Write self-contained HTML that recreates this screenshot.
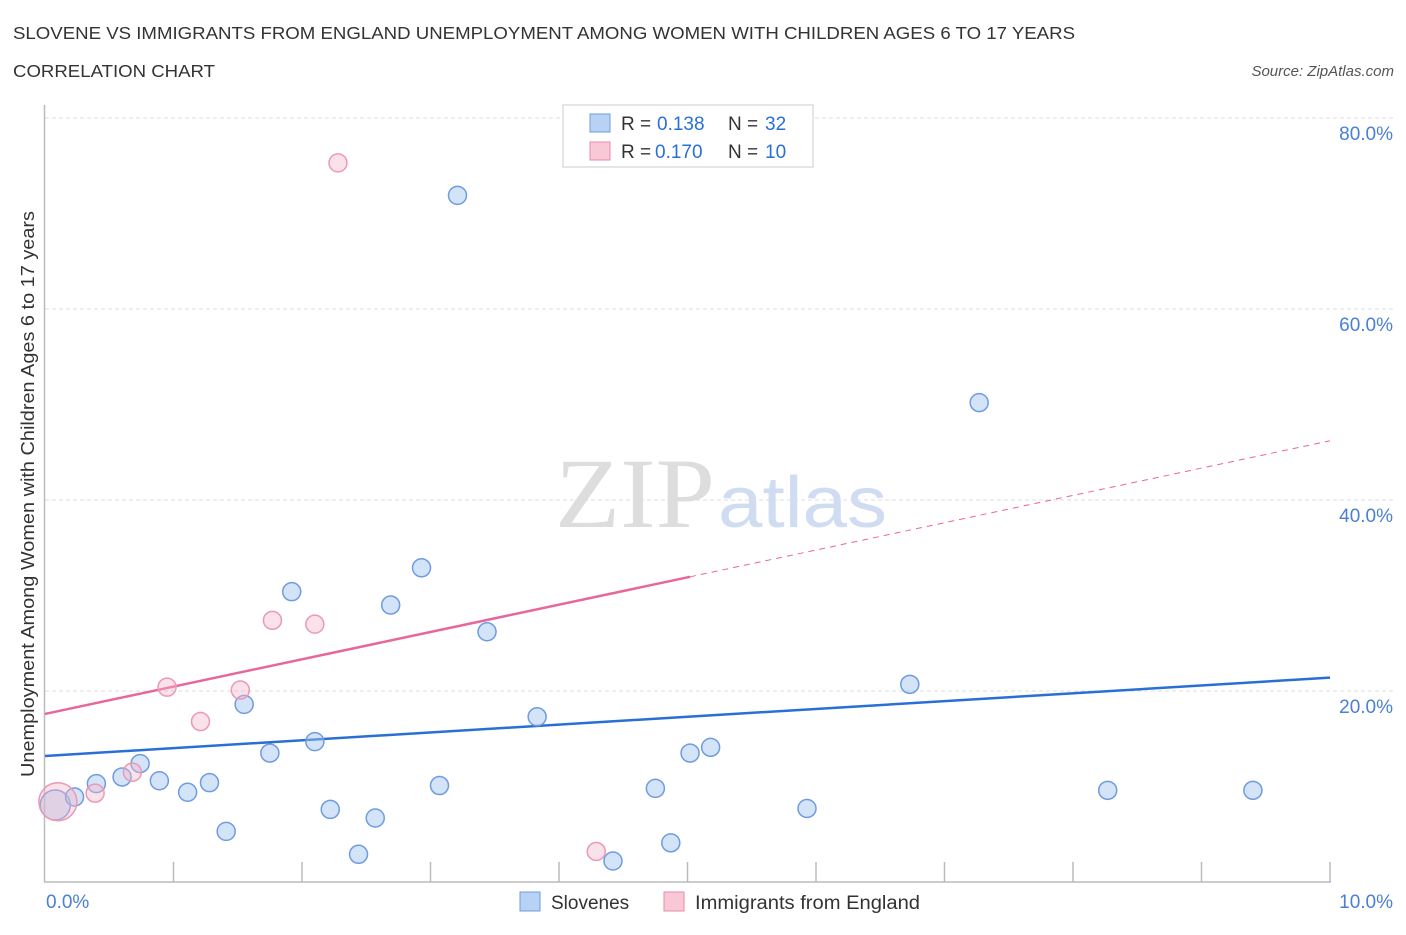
<!DOCTYPE html>
<html><head><meta charset="utf-8"><style>
body{margin:0;background:#fff;font-family:"Liberation Sans",sans-serif;}
</style></head><body>
<svg width="1406" height="930" xmlns="http://www.w3.org/2000/svg" font-family="Liberation Sans, sans-serif">
<text x="13" y="39" font-size="17.5" fill="#333" textLength="1062" lengthAdjust="spacingAndGlyphs">SLOVENE VS IMMIGRANTS FROM ENGLAND UNEMPLOYMENT AMONG WOMEN WITH CHILDREN AGES 6 TO 17 YEARS</text>
<text x="13" y="77" font-size="17.5" fill="#333" textLength="202" lengthAdjust="spacingAndGlyphs">CORRELATION CHART</text>
<text x="1394" y="76" font-size="15" fill="#555" text-anchor="end" font-style="italic">Source: ZipAtlas.com</text>
<text x="555" y="527" font-size="100" fill="#ddd" textLength="160" lengthAdjust="spacingAndGlyphs" font-family="Liberation Serif, serif">ZIP</text>
<text x="718" y="527" font-size="72" fill="#cfdcf2" textLength="169" lengthAdjust="spacingAndGlyphs">atlas</text>
<g id="grid"></g>
<g id="axes"></g>
<g id="lines"></g>
<g id="points"></g>
<text transform="translate(34,494) rotate(-90)" font-size="18" fill="#333" text-anchor="middle" textLength="566" lengthAdjust="spacingAndGlyphs">Unemployment Among Women with Children Ages 6 to 17 years</text>
<g>
<rect x="563" y="105" width="250" height="62" fill="#fff" stroke="#ccc"/>
<rect x="590" y="114" width="20" height="18" fill="#b8d2f5" stroke="#6f9be0"/>
<text x="621" y="130" font-size="19" fill="#333">R =</text>
<text x="657" y="130" font-size="19" fill="#2a6fd6">0.138</text>
<text x="728" y="130" font-size="19" fill="#333">N =</text>
<text x="765" y="130" font-size="19" fill="#2a6fd6">32</text>
<rect x="590" y="142" width="20" height="18" fill="#f9c8d6" stroke="#e98aa8"/>
<text x="621" y="158" font-size="19" fill="#333">R =</text>
<text x="655" y="158" font-size="19" fill="#2a6fd6">0.170</text>
<text x="728" y="158" font-size="19" fill="#333">N =</text>
<text x="765" y="158" font-size="19" fill="#2a6fd6">10</text>
</g>
<g>
<rect x="520" y="892" width="20" height="19" fill="#b8d2f5" stroke="#6f9be0"/>
<text x="551" y="909" font-size="19" fill="#333">Slovenes</text>
<rect x="664" y="892" width="20" height="19" fill="#f9c8d6" stroke="#e98aa8"/>
<text x="695" y="909" font-size="19" fill="#333" textLength="225" lengthAdjust="spacingAndGlyphs">Immigrants from England</text>
</g>
</svg>
<script>
const blueX=[0.08,0.23,0.40,0.60,0.74,0.89,1.11,1.28,1.41,1.55,1.75,1.92,2.10,2.22,2.44,2.57,2.69,2.93,3.07,3.21,3.44,3.83,4.42,4.75,4.87,5.02,5.18,5.93,6.73,7.27,8.27,9.40];
const blueY=[8.06,8.9,10.3,11.0,12.4,10.6,9.4,10.4,5.3,18.6,13.5,30.4,14.7,7.6,2.9,6.7,29.0,32.9,10.1,71.9,26.2,17.3,2.2,9.8,4.1,13.5,14.1,7.7,20.7,50.2,9.6,9.6];
const pinkX=[0.10,0.39,0.68,0.95,1.21,1.52,1.77,2.10,2.28,4.29];
const pinkY=[8.4,9.3,11.5,20.4,16.8,20.1,27.4,27.0,75.3,3.2];
const yTicks=[20,40,60,80];
const yTickLabels=["20.0%","40.0%","60.0%","80.0%"];
const blueTrend=[13.2,21.4];
const pinkTrend=[17.6,46.2];
const pinkSolidEnd=5.02;
const NS="http://www.w3.org/2000/svg";
const X=v=>45+v*128.5, Y=v=>882-v*9.55;
function mk(t,a,p){const e=document.createElementNS(NS,t);for(const k in a)e.setAttribute(k,a[k]);p.appendChild(e);return e;}
const grid=document.getElementById('grid'),axes=document.getElementById('axes'),lines=document.getElementById('lines'),pts=document.getElementById('points');
yTicks.forEach((t,i)=>{
 const l=mk('line',{x1:45,x2:1394,y1:Y(t),y2:Y(t),stroke:'#ddd','stroke-dasharray':'4,3'},grid);
 
 
 const tx=mk('text',{x:1393,y:Y(t)+22,'font-size':19,fill:'#4a7fd6','text-anchor':'end'},grid);
 tx.textContent=yTickLabels[i];
 
 
});
let a=mk('line',{x1:44.5,x2:44.5,y1:105,y2:882,stroke:'#bbb','stroke-width':1.5},axes);


a=mk('line',{x1:44,x2:1331,y1:882,y2:882,stroke:'#bbb','stroke-width':1.5},axes);


for(let i=1;i<=10;i++){const t=mk('line',{x1:X(i),x2:X(i),y1:862,y2:882,stroke:'#bbb','stroke-width':1.5},axes);
 
 }
[[0,"0.0%",'start',46],[10,"10.0%",'end',1393]].forEach(d=>{const t=mk('text',{x:d[3],y:908,'font-size':19,fill:'#4a7fd6','text-anchor':d[2]},axes);t.textContent=d[1];
 
 });
let ln=mk('line',{x1:X(0),y1:Y(blueTrend[0]),x2:X(10),y2:Y(blueTrend[1]),stroke:'#2a6fd6','stroke-width':2.5},lines);


const pAt=v=>pinkTrend[0]+(pinkTrend[1]-pinkTrend[0])*v/10;
ln=mk('line',{x1:X(0),y1:Y(pAt(0)),x2:X(pinkSolidEnd),y2:Y(pAt(pinkSolidEnd)),stroke:'#e8679a','stroke-width':2.5},lines);


ln=mk('line',{x1:X(pinkSolidEnd),y1:Y(pAt(pinkSolidEnd)),x2:X(10),y2:Y(pAt(10)),stroke:'#e8679a','stroke-width':1,'stroke-dasharray':'6,5'},lines);


blueX.forEach((x,i)=>{const c=mk('circle',{cx:X(x),cy:Y(blueY[i]),r:i==0?15:9,fill:'rgba(160,195,240,0.45)',stroke:'#6f9be0','stroke-width':1.5},pts);
 
 });
pinkX.forEach((x,i)=>{const c=mk('circle',{cx:X(x),cy:Y(pinkY[i]),r:i==0?19:9,fill:'rgba(245,180,200,0.4)',stroke:'#eb9ab4','stroke-width':1.5},pts);
 
 });
</script>
</body></html>
